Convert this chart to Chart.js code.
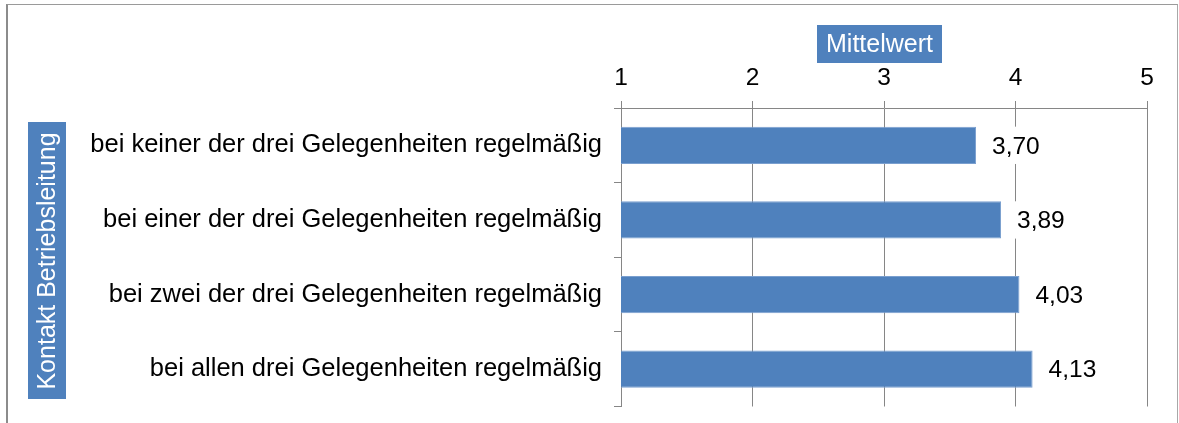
<!DOCTYPE html>
<html lang="de">
<head>
  <meta charset="UTF-8">
  <title>Kontakt Betriebsleitung – Mittelwert</title>
  <script src="https://cdn.jsdelivr.net/npm/chart.js"></script>
  <style>
    body { margin: 0; background: #fff; }
    .wrap { position: relative; width: 1179px; height: 423px; overflow: hidden; }
    .frame {
      position: absolute; left: 6px; top: 4px; width: 1169px; height: 440px;
      border-top: 1px solid #9a9a9a; border-left: 2px solid #8c8c8c; border-right: 1px solid #a8a8a8;
    }
    canvas { position: absolute; left: 0; top: 0; }
  </style>
</head>
<body>
  <div class="wrap">
    <div class="frame"></div>
    <canvas id="chart" width="1179" height="423"></canvas>
  </div>

  <script>
    // data
    const categories = [
      'bei keiner der drei Gelegenheiten regelmäßig',
      'bei einer der drei Gelegenheiten regelmäßig',
      'bei zwei der drei Gelegenheiten regelmäßig',
      'bei allen drei Gelegenheiten regelmäßig'
    ];
    const meanValues = [3.70, 3.89, 4.03, 4.13];
    const xTitle = 'Mittelwert';
    const yTitle = 'Kontakt Betriebsleitung';

    const FONT = "'Liberation Sans', Arial, sans-serif";
    const BLUE = '#4F81BD';
    const GRID = '#868686';

    // value labels with white background, like the excel data labels
    const valueLabels = {
      id: 'valueLabels',
      afterDatasetsDraw(chart) {
        const ctx = chart.ctx;
        const meta = chart.getDatasetMeta(0);
        ctx.save();
        ctx.font = '24.5px ' + FONT;
        ctx.textBaseline = 'middle';
        meta.data.forEach((bar, i) => {
          const txt = meanValues[i].toFixed(2).replace('.', ',');
          const w = ctx.measureText(txt).width;
          const x = bar.x + 16;
          ctx.fillStyle = '#fff';
          ctx.fillRect(x - 6, bar.y - bar.height / 2, w + 12, bar.height);
          ctx.fillStyle = '#000';
          ctx.fillText(txt, x, bar.y + 1.5);
        });
        ctx.restore();
      }
    };

    // axis titles drawn in blue boxes
    const boxTitles = {
      id: 'boxTitles',
      afterDraw(chart) {
        const ctx = chart.ctx;
        ctx.save();
        ctx.font = '25px ' + FONT;
        ctx.textAlign = 'center';
        ctx.textBaseline = 'middle';

        ctx.fillStyle = BLUE;
        ctx.fillRect(817, 25, 125, 38);
        ctx.fillStyle = '#fff';
        ctx.fillText(xTitle, 879.5, 45);

        ctx.fillStyle = BLUE;
        ctx.fillRect(28, 122, 38, 277);
        ctx.translate(48, 261);
        ctx.rotate(-Math.PI / 2);
        ctx.fillStyle = '#fff';
        ctx.fillText(yTitle, 0, 0);
        ctx.restore();
      }
    };

    new Chart(document.getElementById('chart'), {
      type: 'bar',
      data: {
        labels: categories,
        datasets: [{
          data: meanValues,
          backgroundColor: BLUE,
          borderColor: '#7A9FCF',
          borderWidth: 1,
          barPercentage: 0.5,
          categoryPercentage: 1.0
        }]
      },
      options: {
        indexAxis: 'y',
        responsive: false,
        animation: false,
        layout: { padding: { left: 0, top: 0, right: 32, bottom: 16.5 } },
        plugins: {
          legend: { display: false },
          tooltip: { enabled: false }
        },
        scales: {
          x: {
            position: 'top',
            min: 1,
            max: 5,
            afterFit(scale) { scale.height = 108; },
            ticks: {
              stepSize: 1,
              padding: 8,
              color: '#000',
              font: { family: FONT, size: 24.5 }
            },
            grid: { color: GRID, lineWidth: 1, tickLength: 7 },
            border: { color: GRID, width: 1 }
          },
          y: {
            afterFit(scale) {
              scale.width = 621;
              scale.paddingTop = 0;
              scale.paddingBottom = 0;
            },
            ticks: {
              padding: 12,
              color: '#000',
              font: { family: FONT, size: 25.5 }
            },
            grid: { offset: true, drawOnChartArea: false, color: GRID, tickLength: 7 },
            border: { color: GRID, width: 1 }
          }
        }
      },
      plugins: [valueLabels, boxTitles]
    });
  </script>
</body>
</html>
